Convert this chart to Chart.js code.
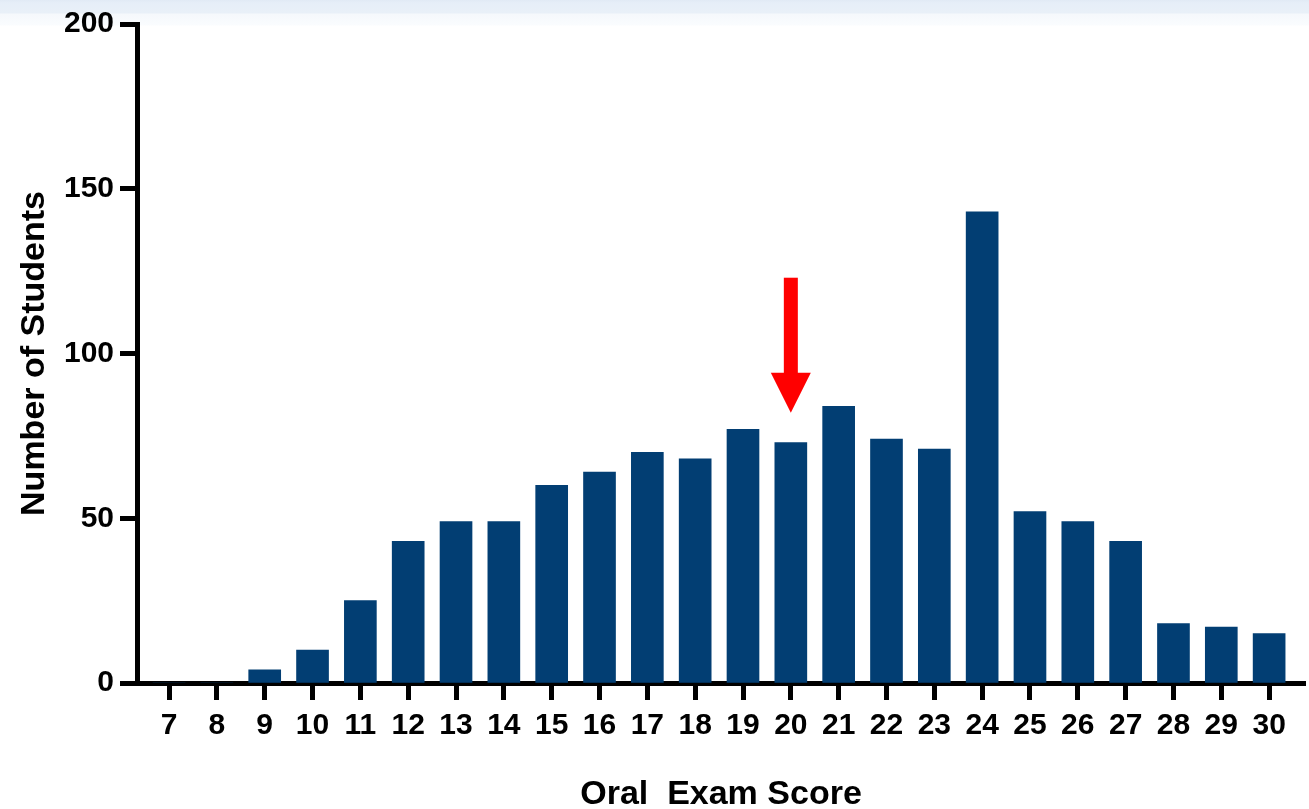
<!DOCTYPE html>
<html>
<head>
<meta charset="utf-8">
<script src="https://cdn.jsdelivr.net/npm/chart.js@4/dist/chart.umd.min.js"></script>
<style>
    html, body {
        margin: 0;
        padding: 0;
    }
    body {
        width: 1309px;
        height: 809px;
        background: linear-gradient(#e1eaf5 0px, #e6eef8 3px, #e9f0f8 13px, #f5f8fc 14px, #fafcfe 25px, #ffffff 26px);
    }
    #holder {
        position: relative;
        width: 1309px;
        height: 809px;
    }
</style>
</head>
<body>
<div id="holder"><canvas id="chart"></canvas></div>
<script>
// oral exam score (x) and how many students got it
var scores = [7, 8, 9, 10, 11, 12, 13, 14, 15, 16, 17, 18, 19, 20, 21, 22, 23, 24, 25, 26, 27, 28, 29, 30];
var students = [0, 0, 4, 10, 25, 43, 49, 49, 60, 64, 70, 68, 77, 73, 84, 74, 71, 143, 52, 49, 43, 18, 17, 15];
var yTicks = [0, 50, 100, 150, 200];

// red marker arrow, in data units
var arrowScore = 20;
var arrowFrom = 123;
var arrowTo = 82;

var _font = "'Liberation Sans', Arial, sans-serif";

var arrowPlugin = {
    id: 'arrow',
    afterDatasetsDraw: function(chart) {
        var ctx = chart.ctx;
        var x = chart.scales.x.getPixelForValue(arrowScore);
        var yTop = chart.scales.y.getPixelForValue(arrowFrom);
        var yTip = chart.scales.y.getPixelForValue(arrowTo);
        var headH = 40, headW = 20, shaftW = 7;

        ctx.save();
        ctx.fillStyle = '#ff0000';
        ctx.fillRect(x - shaftW, yTop, shaftW * 2, (yTip - headH) - yTop + 1);
        ctx.beginPath();
        ctx.moveTo(x - headW, yTip - headH);
        ctx.lineTo(x + headW, yTip - headH);
        ctx.lineTo(x, yTip);
        ctx.closePath();
        ctx.fill();
        ctx.restore();
    }
};

var points = scores.map(function(s, i) {
    return {x: s, y: students[i]};
});

new Chart(document.getElementById('chart'), {
    type: 'bar',
    data: {
        datasets: [{
            data: points,
            backgroundColor: '#023e73',
            borderWidth: 0,
            barThickness: 32
        }]
    },
    options: {
        responsive: true,
        maintainAspectRatio: false,
        animation: false,
        layout: {
            padding: {top: 18, right: 4, left: 0, bottom: 0}
        },
        plugins: {
            legend: {display: false},
            tooltip: {enabled: false}
        },
        scales: {
            x: {
                type: 'linear',
                min: 6.33,
                max: 30.75,
                offset: false,
                afterFit: function(scale) {
                    scale.height = 126;
                },
                afterBuildTicks: function(scale) {
                    scale.ticks = scores.map(function(v) { return {value: v}; });
                },
                grid: {
                    offset: false,
                    drawOnChartArea: false,
                    drawTicks: true,
                    tickLength: 17,
                    tickWidth: 5,
                    tickColor: '#000'
                },
                border: {
                    display: true,
                    color: '#000',
                    width: 5
                },
                ticks: {
                    color: '#000',
                    padding: 8,
                    maxRotation: 0,
                    autoSkip: false,
                    font: {family: _font, size: 30, weight: 'bold'}
                },
                title: {
                    display: true,
                    text: 'Oral  Exam Score',
                    color: '#000',
                    padding: {top: 0, bottom: 0},
                    font: {family: _font, size: 34, weight: 'bold', lineHeight: 0.85}
                }
            },
            y: {
                min: 0,
                max: 200,
                afterFit: function(scale) {
                    scale.width = 137;
                },
                afterBuildTicks: function(scale) {
                    scale.ticks = yTicks.map(function(v) { return {value: v}; });
                },
                grid: {
                    drawOnChartArea: false,
                    drawTicks: true,
                    tickLength: 17,
                    tickWidth: 5,
                    tickColor: '#000'
                },
                border: {
                    display: true,
                    color: '#000',
                    width: 5
                },
                ticks: {
                    color: '#000',
                    padding: 6,
                    font: {family: _font, size: 30, weight: 'bold'}
                },
                title: {
                    display: true,
                    text: 'Number of Students',
                    color: '#000',
                    padding: {top: 20, bottom: 0},
                    font: {family: _font, size: 34, weight: 'bold', lineHeight: 0.85}
                }
            }
        }
    },
    plugins: [arrowPlugin]
});
</script>
</body>
</html>
